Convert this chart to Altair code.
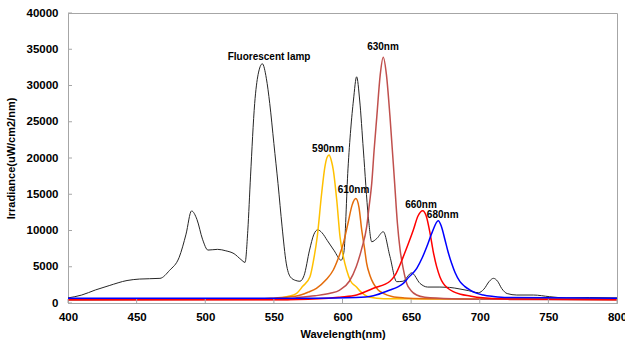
import altair as alt
import pandas as pd

# ---- data ----
lamp_nm = [400, 410, 420, 430, 443, 452, 467, 474, 481, 486, 490, 494, 498, 502, 509, 515, 521, 526, 529,
           531, 533, 536, 538.5, 541.6, 544.5, 547, 550, 553, 556, 559, 562, 566, 569, 572, 576, 579, 582,
           585, 589, 594, 599, 601, 604, 608, 610.3, 612.5, 615.2, 618.8, 621.3, 625, 629.7, 634.6, 639.5,
           644, 650.4, 656.5, 662, 671, 678, 685.6, 692, 699, 703, 707, 710, 713, 716, 720, 727, 739, 751,
           763, 780, 800]
lamp_val = [700, 1100, 1800, 2400, 3100, 3300, 3400, 4500, 6300, 9500, 12700, 11500, 8800, 7300, 7400, 7200,
            6800, 6000, 5600, 10000, 17500, 27500, 31500, 33000, 31000, 27500, 22000, 16500, 10500, 5500, 3600,
            3100, 3000, 3800, 7300, 9400, 10100, 9700, 8600, 7200, 5900, 7000, 18500, 28000, 31200, 28000,
            21100, 11900, 8450, 8900, 9830, 6390, 2940, 3000, 4150, 2700, 2200, 2200, 2150, 1930, 1700, 1420,
            1900, 3000, 3400, 3000, 2000, 1300, 1100, 1100, 870, 700, 750, 700]

y590_nm = [400, 500, 540, 551, 560, 566.6, 571, 576.3, 579, 581.6, 584.8, 587.2, 588.8, 590.2, 591.8,
           593.3, 595.8, 598.2, 600.5, 603, 606, 610, 613, 620, 630, 700, 800]
y590_val = [550, 550, 550, 600, 900, 1340, 2300, 3630, 6000, 9140, 15100, 18800, 20100, 20400, 19700,
            18340, 14200, 9140, 6500, 4550, 3000, 2250, 1600, 800, 600, 550, 550]

y610_nm = [400, 540, 551, 566.6, 575, 581, 588, 593.3, 597, 600.6, 604, 607, 609.7, 612, 614, 616, 617.6,
           620, 622.5, 626, 629.7, 636, 645, 660, 700, 800]
y610_val = [500, 550, 700, 965, 1500, 2030, 3200, 4550, 6200, 8230, 11000, 13500, 14400, 13200, 10070,
            7600, 5470, 3800, 2700, 1800, 1340, 900, 700, 600, 550, 500]

y630_nm = [400, 560, 569, 580, 591, 598, 605, 610, 614, 617.6, 619.5, 621.3, 623, 625, 627.5, 629.7, 632,
           634.6, 638, 640, 642, 644.5, 646.8, 650, 654, 660, 680, 720, 800]
y630_val = [400, 500, 790, 1000, 1340, 1790, 3000, 5000, 7500, 10500, 13500, 16500, 21000, 25700, 31500,
            33900, 31500, 25700, 16500, 11000, 7300, 4500, 2700, 1700, 1100, 800, 600, 500, 450]

y660_nm = [400, 560, 590, 598, 610.3, 622.5, 634.6, 638.2, 644.3, 648, 651.6, 655, 658.4, 661, 663.8, 666,
           668.6, 671, 673.4, 677, 680.7, 686, 692.9, 700, 720, 800]
y660_val = [450, 450, 650, 800, 1100, 2030, 3000, 3800, 6400, 8200, 10070, 12000, 12730, 12000, 9610, 7200,
            5010, 3600, 2700, 2000, 1560, 1200, 965, 750, 550, 450]

y680_nm = [400, 580, 610, 622.5, 634.6, 640, 644.3, 648, 654.1, 658, 661.4, 665, 669.8, 672, 674.7, 677,
           679.5, 682, 685.6, 689, 693, 697, 702.6, 710, 720, 800]
y680_val = [650, 650, 750, 1000, 1790, 2200, 2700, 3500, 4780, 6200, 7760, 9600, 11350, 10600, 8690, 7000,
            5470, 4200, 2940, 2300, 1790, 1400, 1100, 900, 750, 650]

series_names = ["Fluorescent lamp", "590nm", "610nm", "630nm", "660nm", "680nm"]
series_nm = [lamp_nm, y590_nm, y610_nm, y630_nm, y660_nm, y680_nm]
series_val = [lamp_val, y590_val, y610_val, y630_val, y660_val, y680_val]
series_colors = ["#262626", "#FFC000", "#E46C0A", "#C0504D", "#FF0000", "#0000FF"]
series_widths = [1.0, 1.5, 1.5, 1.5, 1.5, 1.5]

label_text = ["Fluorescent lamp", "590nm", "610nm", "630nm", "660nm", "680nm"]
label_nm = [546.5, 589.4, 608.0, 629.5, 657.2, 673.0]
label_val = [33900, 21240, 15580, 35300, 13500, 12140]

x_ticks = [400, 450, 500, 550, 600, 650, 700, 750, 800]
y_ticks = [0, 5000, 10000, 15000, 20000, 25000, 30000, 35000, 40000]

W, H = 549, 290
FONT = "Liberation Sans"
GRAY = "#a6a6a6"

xscale = alt.Scale(domain=[400, 800], nice=False, zero=False)
yscale = alt.Scale(domain=[0, 40000], nice=False)

xaxis = alt.Axis(values=x_ticks, format="d", title="Wavelength(nm)", grid=False, tickSize=0,
                 labelPadding=8, labelFlush=False, domainColor=GRAY, labelFontWeight="bold",
                 labelFontSize=11.5, labelColor="#000000", titleFontWeight="bold", titleFontSize=11,
                 titleColor="#000000", titlePadding=6, labelFont=FONT, titleFont=FONT)
yaxis = alt.Axis(values=y_ticks, format="d", title="Irradiance(uW/cm2/nm)", grid=False, tickSize=0,
                 labelPadding=10, labelFlush=False, domainColor=GRAY, labelFontWeight="bold",
                 labelFontSize=11.5, labelColor="#000000", titleFontWeight="bold", titleFontSize=11,
                 titleColor="#000000", titlePadding=10, labelFont=FONT, titleFont=FONT)

layers = []
for name, nms, vals, col, w in zip(series_names, series_nm, series_val, series_colors, series_widths):
    df = pd.DataFrame({"nm": nms, "val": vals, "series": name})
    layers.append(
        alt.Chart(df).mark_line(color=col, strokeWidth=w, interpolate="monotone", clip=True)
        .encode(x=alt.X("nm:Q", scale=xscale, axis=xaxis),
                y=alt.Y("val:Q", scale=yscale, axis=yaxis))
    )

# inside tick marks
ytick_df = pd.DataFrame({"nm": [400] * len(y_ticks), "val": y_ticks})
layers.append(
    alt.Chart(ytick_df).mark_rule(color=GRAY, strokeWidth=1)
    .encode(y=alt.Y("val:Q", scale=yscale, axis=yaxis), x=alt.value(0), x2=alt.value(4))
)
xtick_df = pd.DataFrame({"nm": x_ticks, "val": [0] * len(x_ticks)})
layers.append(
    alt.Chart(xtick_df).mark_rule(color=GRAY, strokeWidth=1)
    .encode(x=alt.X("nm:Q", scale=xscale, axis=xaxis), y=alt.value(H - 4), y2=alt.value(H))
)

lab_df = pd.DataFrame({"t": label_text, "nm": label_nm, "val": label_val})
layers.append(
    alt.Chart(lab_df).mark_text(font=FONT, fontSize=10, fontWeight="bold", color="#000000",
                                align="center", baseline="middle")
    .encode(x=alt.X("nm:Q", scale=xscale, axis=xaxis), y=alt.Y("val:Q", scale=yscale, axis=yaxis),
            text="t:N")
)

chart = (
    alt.layer(*layers)
    .properties(width=W, height=H, autosize="none",
                padding={"left": 68, "top": 13, "right": 8, "bottom": 44}, background="#ffffff")
    .configure_view(stroke=GRAY, strokeWidth=1)
)

chart.save("out.html", embed_options={"renderer": "svg", "actions": False})
